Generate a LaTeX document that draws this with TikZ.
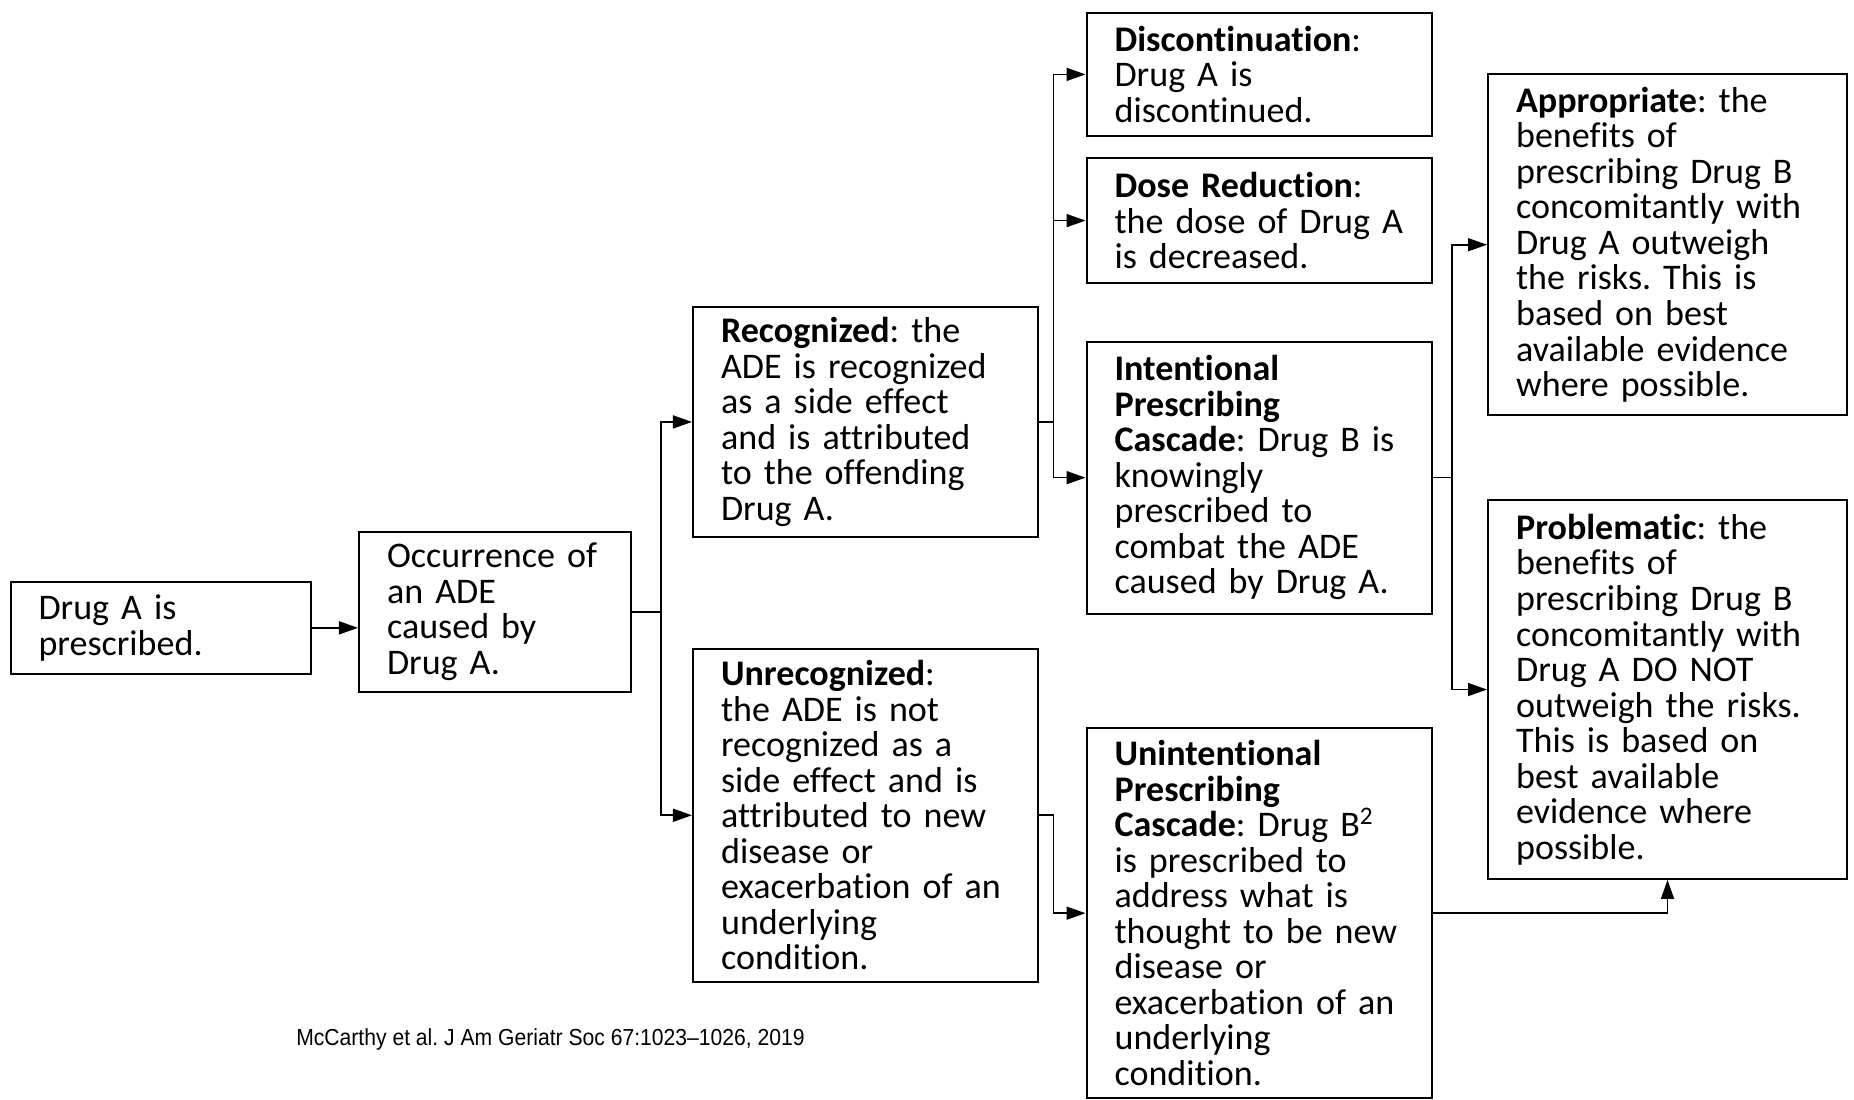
\documentclass[tikz,border=0pt]{standalone}
\usepackage{fontspec}
\setmainfont{Carlito}[Ligatures={NoCommon}]
\newfontfamily\citefont[FakeStretch=0.91]{Liberation Sans}
\usetikzlibrary{arrows.meta,positioning}
\frenchspacing
\newcommand\boxfont{\fontsize{10.25}{10.1}\selectfont\lineskiplimit=-6pt\relax}

\begin{document}
\begin{tikzpicture}[x=0.01cm,y=-0.01cm]
\tikzstyle{box} = [rectangle, draw, line width=0.6pt, inner xsep=0.1cm, inner ysep=0pt, font=\boxfont, execute at begin node={\raggedright\leftskip=0.18cm\relax}];
\tikzstyle{link} = [line width=0.45pt, -{Triangle[length=0.19cm,width=0.13cm]}];
\useasboundingbox (0,0) rectangle (1854,1099);

% first column
\node (drugA) [box, anchor=north west, text width=2.805cm, minimum height=0.925cm] at (9.5,580.5) {Drug A is\\prescribed.};
\node (ade) [box, anchor=north west, text width=2.52cm, minimum height=1.595cm] at (358,531) {Occurrence of\\an ADE\\caused by\\Drug A.};

% recognized or not
\node (recog) [box, anchor=north west, text width=3.25cm, minimum height=2.296cm] at (692,306) {\textbf{Recognized}: the\\ADE is recognized\\as a side effect\\and is attributed\\to the offending\\Drug A.};
\node (unrecog) [box, text width=3.25cm, minimum height=3.324cm, below=1.1cm of recog] {\textbf{Unrecognized}:\\the ADE is not\\recognized as a\\side effect and is\\attributed to new\\disease or\\exacerbation of an\\underlying\\condition.};

% outcomes
\node (discont) [box, anchor=north west, text width=3.25cm, minimum height=1.23cm] at (1085.5,11.8) {\textbf{Discontinuation}:\\Drug A is\\discontinued.};
\node (dosered) [box, text width=3.25cm, minimum height=1.25cm, below=0.2cm of discont] {\textbf{Dose Reduction}:\\the dose of Drug A\\is decreased.};
\node (intent) [box, anchor=north west, text width=3.25cm, minimum height=2.72cm] at (1085.5,340.5) {\textbf{Intentional}\\\textbf{Prescribing}\\\textbf{Cascade}: Drug B is\\knowingly\\prescribed to\\combat the ADE\\caused by Drug A.};
\node (unintent) [box, anchor=north west, text width=3.25cm, minimum height=3.70cm] at (1085.5,727) {\textbf{Unintentional}\\\textbf{Prescribing}\\\textbf{Cascade}: Drug B\textsuperscript{2}\\is prescribed to\\address what is\\thought to be new\\disease or\\exacerbation of an\\underlying\\condition.};

% appraisal
\node (approp) [box, anchor=north west, text width=3.387cm, minimum height=3.405cm] at (1487,73.3) {\textbf{Appropriate}: the\\benefits of\\prescribing Drug B\\concomitantly with\\Drug A outweigh\\the risks. This is\\based on best\\available evidence\\where possible.};
\node (problem) [box, text width=3.387cm, minimum height=3.784cm, below=0.83cm of approp] {\textbf{Problematic}: the\\benefits of\\prescribing Drug B\\concomitantly with\\Drug A DO NOT\\outweigh the risks.\\This is based on\\best available\\evidence where\\possible.};

\node (cite) [anchor=west, inner sep=0pt, font=\citefont\fontsize{6.6}{8}\selectfont] at (295.6,1039) {McCarthy et al. J Am Geriatr Soc 67:1023–1026, 2019};

% connectors
\draw[link] (drugA.east) -- (drugA.east -| ade.west);
\draw[link] (ade.east) -- ++(28.6,0) |- (recog.west);
\draw[link] (ade.east) -- ++(28.6,0) |- (unrecog.west);
\draw[link] (recog.east) -- ++(14,0) |- (discont.west);
\draw[link] (recog.east) -- ++(14,0) |- (dosered.west);
\draw[link] (recog.east) -- ++(14,0) |- (intent.west);
\draw[link] (unrecog.east) -- ++(14,0) |- (unintent.west);
\draw[link] (intent.east) -- ++(19,0) |- (approp.west);
\draw[link] (intent.east) -- ++(19,0) |- (problem.west);
\draw[link] (unintent.east) -| (problem.south);
\end{tikzpicture}
\end{document}
